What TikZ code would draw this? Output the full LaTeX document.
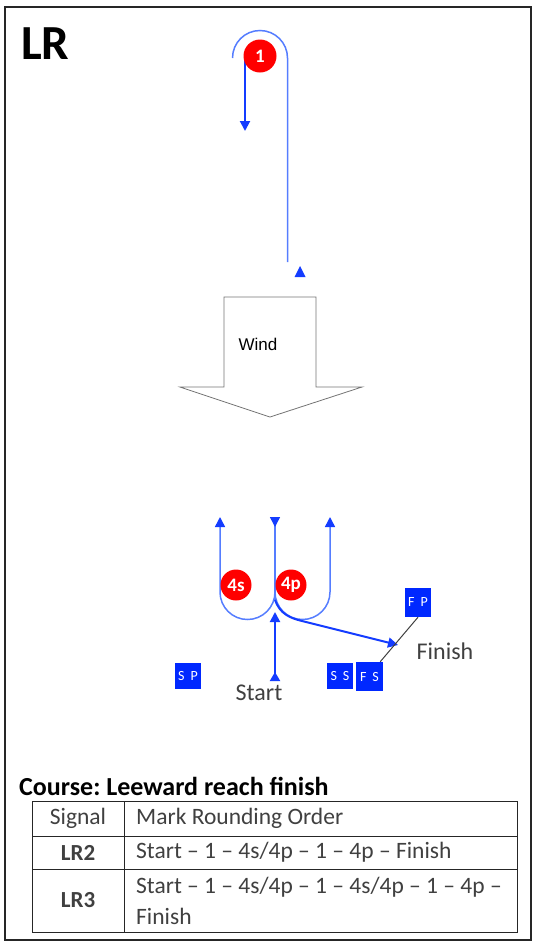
\documentclass[tikz,border=0pt]{standalone}
\usepackage{fontspec}
\setmainfont{Carlito}
\newfontfamily\windfont{Liberation Sans}
\usetikzlibrary{arrows.meta}
\definecolor{legblue}{RGB}{85,125,255}
\definecolor{tipblue}{RGB}{20,60,255}
\definecolor{buoyred}{RGB}{255,0,0}
\definecolor{flagblue}{RGB}{0,40,255}
\definecolor{textgray}{RGB}{64,64,64}
\tikzset{
	buoy/.style = {circle, fill=buoyred, minimum size=31pt, inner sep=0pt, text=white, font=\bfseries\fontsize{19}{19}\selectfont},
	flag/.style = {rectangle, fill=flagblue, minimum width=26pt, minimum height=26pt, inner sep=0pt, text=white, font=\fontsize{14}{14}\selectfont},
	leg/.style = {draw=legblue, line width=1.5pt},
	legarrow/.style = {leg, -{Triangle[length=10pt, width=10pt, color=tipblue]}},
	tipline/.style = {draw=tipblue, line width=2pt, -{Triangle[length=10pt, width=10pt]}},
	cell/.style = {inner sep=0pt, text=textgray, font=\fontsize{23.5}{31}\selectfont},
	boldcell/.style = {cell, font=\bfseries\fontsize{23}{31}\selectfont},
	textlabel/.style = {inner sep=0pt, text=textgray, font=\fontsize{24}{24}\selectfont}
}
\newcommand{\flagtext}[2]{#1\hspace{6pt}#2}
\begin{document}
\frenchspacing
\begin{tikzpicture}[x=1pt, y=-1pt]
	% Define frame and title
	\useasboundingbox (0,0) rectangle (535,943);
	\draw[line width=2.2pt, black!85] (5,7) rectangle (531,940);
	\node (title) [anchor=west, inner sep=0pt, font=\bfseries\fontsize{49}{49}\selectfont] at (21,44) {LR};

	% Define windward mark and its legs
	\coordinate (top_left) at (232.5,58);
	\coordinate (top_end) at (287.5,262);
	\coordinate (drop_start) at (245,58);
	\coordinate (drop_end) at (245,131);
	\draw[leg] (top_left) arc[start angle=180, end angle=0, radius=27.5pt] -- (top_end);
	\draw[tipline] (drop_start) -- (drop_end);
	\fill[tipblue] (294.5,277) -- (300,266) -- (305.5,277) -- cycle;
	\node (mark1) [buoy, minimum size=33pt] at (260,56) {1};

	% Define wind arrow
	\draw[black!55, line width=0.8pt] (224,297) -- (316,297) -- (316,387) -- (362,387) -- (270,417) -- (180,387) -- (224,387) -- cycle;
	\node (wind) [inner sep=0pt, font=\windfont\fontsize{17}{17}\selectfont] at (258,344) {Wind};

	% Define leeward gate and its legs
	\coordinate (gate) at (275,592);
	\coordinate (gate_end) at (275,600);
	\coordinate (gate_top) at (275,517);
	\coordinate (left_top) at (220,517);
	\coordinate (right_top) at (330,517);
	\coordinate (start_end) at (275,681);
	\coordinate (start_tip) at (275,612);
	\coordinate (finish_tip) at (398,645);
	\draw[leg, {Triangle[reversed, length=10pt, width=10pt, color=tipblue]}-] (gate_top) -- (gate_end);
	\draw[legarrow] (gate) arc[start angle=0, end angle=-180, radius=27.5pt] -- (left_top);
	\draw[legarrow] (gate) arc[start angle=180, end angle=360, radius=27.5pt] -- (right_top);
	\draw[tipline, {Triangle[reversed, length=9pt, width=10pt]}-{Triangle[length=10pt, width=10pt]}] (start_end) -- (start_tip);
	\draw[tipline] (gate_end) .. controls (280,614) and (290,618) .. (302,621) -- (finish_tip);
	\node (mark4s) [buoy] at (236,585) {4s};
	\node (mark4p) [buoy] at (291,585) {4p};

	% Define start and finish lines
	\node (sp) [flag] at (188,676) {\flagtext{S}{P}};
	\node (ss) [flag] at (340,675.5) {\flagtext{S}{S}};
	\node (fs) [flag, minimum width=27pt, minimum height=29pt] at (369.5,676.5) {\flagtext{F}{S}};
	\node (fp) [flag, minimum height=29pt] at (418,602.5) {\flagtext{F}{P}};
	\draw[black!75, line width=1pt] (fp.south) -- (fs.54);
	\node (start) [textlabel] at (259,693) {Start};
	\node (finish) [textlabel] at (445,651) {Finish};

	% Define course table
	\node (course) [anchor=west, inner sep=0pt, font=\bfseries\fontsize{26}{26}\selectfont] at (19,786) {Course: Leeward reach finish};
	\draw[black!85, line width=1pt] (32,801) rectangle (517,932);
	\draw[black!85, line width=1pt] (32,836) -- (517,836) (32,869) -- (517,869) (124,801) -- (124,932);
	\node (signal) [cell] at (78,818.5) {Signal};
	\node (order) [cell, anchor=west] at (136,818.5) {Mark Rounding Order};
	\node (lr2) [boldcell] at (78,852.5) {LR2};
	\node (lr2_order) [cell, anchor=west] at (136,852.5) {Start – 1 – 4s/4p – 1 – 4p – Finish};
	\node (lr3) [boldcell] at (78,900.5) {LR3};
	\node (lr3_order) [cell, anchor=west, align=left] at (136,900.5) {Start – 1 – 4s/4p – 1 – 4s/4p – 1 – 4p –\\Finish};
\end{tikzpicture}
\end{document}
